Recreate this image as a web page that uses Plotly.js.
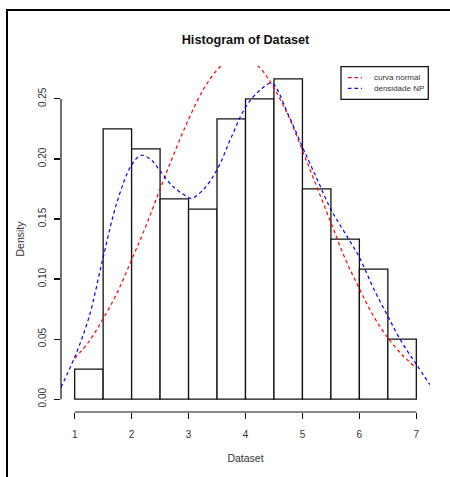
<!DOCTYPE html>
<html>
<head>
<meta charset="utf-8">
<script src="https://cdn.plot.ly/plotly-3.0.1.min.js"></script>
<style>
  html, body { margin: 0; padding: 0; background: #fff; }
  #wrap { position: relative; width: 450px; height: 477px; overflow: hidden; }
  #chart { position: absolute; left: 0; top: 0; width: 450px; height: 477px; }
  #frame { position: absolute; left: 6px; top: 9px; width: 470px; height: 490px;
           border-top: 2px solid #000; border-left: 2px solid #000; pointer-events: none; }
</style>
</head>
<body>
<div id="wrap">
  <div id="chart"></div>
  <div id="frame"></div>
</div>
<script>
// Histogram breaks and densities
const breaks = [1, 1.5, 2, 2.5, 3, 3.5, 4, 4.5, 5, 5.5, 6, 6.5, 7];
const densities = [0.025, 0.225, 0.2083, 0.1667, 0.1583, 0.2333, 0.25, 0.2667, 0.175, 0.1333, 0.1083, 0.05];

// Red dashed curve ("curva normal")
const normalX = [1, 1.25, 1.5, 1.75, 2, 2.25, 2.5, 2.75, 3, 3.25, 3.5, 3.75, 4, 4.25, 4.5, 4.75, 5, 5.25, 5.5, 5.75, 6, 6.25, 6.5, 6.75, 7];
const normalY = [0.034, 0.048, 0.067, 0.089, 0.116, 0.144, 0.175, 0.205, 0.233, 0.257, 0.274, 0.284, 0.284, 0.276, 0.259, 0.236, 0.207, 0.177, 0.147, 0.117, 0.092, 0.069, 0.051, 0.037, 0.026];

// Blue dashed curve ("densidade NP")
const npX = [0.76, 1, 1.25, 1.5, 1.75, 2, 2.17, 2.35, 2.5, 2.75, 3, 3.05, 3.25, 3.5, 3.75, 4, 4.25, 4.46, 4.75, 5, 5.25, 5.5, 5.75, 6, 6.25, 6.5, 6.75, 7, 7.24];
const npY = [0.010, 0.035, 0.068, 0.118, 0.165, 0.195, 0.203, 0.199, 0.190, 0.176, 0.168, 0.167, 0.174, 0.191, 0.218, 0.243, 0.257, 0.263, 0.237, 0.210, 0.184, 0.158, 0.138, 0.118, 0.092, 0.069, 0.047, 0.029, 0.012];

// Ticks and labels
const xTicks = [1, 2, 3, 4, 5, 6, 7];
const yTicks = [0, 0.05, 0.10, 0.15, 0.20, 0.25];
const yTickLabels = ["0.00", "0.05", "0.10", "0.15", "0.20", "0.25"];
const legendNames = ["curva normal", "densidade NP"];
const legendColors = ["red", "blue"];

const centers = densities.map((d, i) => (breaks[i] + breaks[i + 1]) / 2);
const widths = densities.map((d, i) => breaks[i + 1] - breaks[i]);

const FONT = "Liberation Sans, Arial, sans-serif";

const traces = [
  {
    type: "bar", x: centers, y: densities, width: widths,
    marker: { color: "rgba(255,255,255,1)", line: { color: "#111", width: 1.3 } },
    showlegend: false, hoverinfo: "skip"
  },
  {
    type: "scatter", mode: "lines", x: normalX, y: normalY,
    line: { color: "red", width: 1.2, dash: "3.5px,3px", shape: "spline" },
    showlegend: false, hoverinfo: "skip"
  },
  {
    type: "scatter", mode: "lines", x: npX, y: npY,
    line: { color: "blue", width: 1.2, dash: "3.5px,3px", shape: "spline" },
    showlegend: false, hoverinfo: "skip"
  }
];

const ymax = Math.max(...densities);
const xr = [breaks[0] - 0.04 * (breaks[breaks.length - 1] - breaks[0]), breaks[breaks.length - 1] + 0.04 * (breaks[breaks.length - 1] - breaks[0])];
const yr = [-0.04 * ymax, ymax * 1.04];

// Custom R-style legend (positions in paper units)
const shapes = [
  { type: "line", xref: "x", yref: "paper", x0: xTicks[0], x1: xTicks[xTicks.length - 1], y0: 0, y1: 0,
    line: { color: "#111", width: 1.2 } },
  { type: "line", xref: "paper", yref: "y", x0: 0, x1: 0, y0: yTicks[0], y1: yTicks[yTicks.length - 1],
    line: { color: "#111", width: 1.2 } },
  { type: "rect", xref: "paper", yref: "paper", x0: 0.7588, x1: 0.9954, y0: 0.9038, y1: 0.998,
    line: { color: "#111", width: 1.3 }, fillcolor: "rgba(255,255,255,1)" }
];
const rowsY = [0.9662, 0.9356];
const annotations = [];
legendNames.forEach((name, i) => {
  shapes.push({ type: "line", xref: "paper", yref: "paper", x0: 0.7778, x1: 0.8157, y0: rowsY[i], y1: rowsY[i],
    line: { color: legendColors[i], width: 1.2, dash: "3.5px,3px" } });
  annotations.push({ xref: "paper", yref: "paper", x: 0.8428, y: rowsY[i], xanchor: "left", yanchor: "middle",
    text: name, showarrow: false, font: { family: FONT, size: 8, color: "#333" } });
});

const layout = {
  width: 450, height: 477,
  margin: { l: 61, r: 20, t: 66, b: 65, pad: 0 },
  paper_bgcolor: "#fff", plot_bgcolor: "#fff",
  showlegend: false,
  title: { text: "<b>Histogram of Dataset</b>", font: { family: FONT, size: 12.7, color: "#111" },
           x: 0.5, xref: "paper", y: 1 - 40 / 477, yanchor: "middle" },
  xaxis: {
    range: xr, tickvals: xTicks, ticktext: xTicks.map(String),
    ticks: "outside", ticklen: 6, tickwidth: 1.2, tickcolor: "#111",
    showgrid: false, zeroline: false, showline: false,
    ticklabelstandoff: 7,
    tickfont: { family: FONT, size: 10, color: "#333" },
    title: { text: "Dataset", font: { family: FONT, size: 10.5, color: "#333" }, standoff: 15 }
  },
  yaxis: {
    range: yr, tickvals: yTicks, ticktext: yTickLabels, tickangle: -90,
    ticks: "outside", ticklen: 6, tickwidth: 1.2, tickcolor: "#111",
    showgrid: false, zeroline: false, showline: false,
    ticklabelstandoff: 4,
    tickfont: { family: FONT, size: 10, color: "#333" },
    title: { text: "Density", font: { family: FONT, size: 10.5, color: "#333" }, standoff: 10 }
  },
  shapes: shapes,
  annotations: annotations,
  bargap: 0
};

Plotly.newPlot("chart", traces, layout, { staticPlot: true, displayModeBar: false });
</script>
</body>
</html>
